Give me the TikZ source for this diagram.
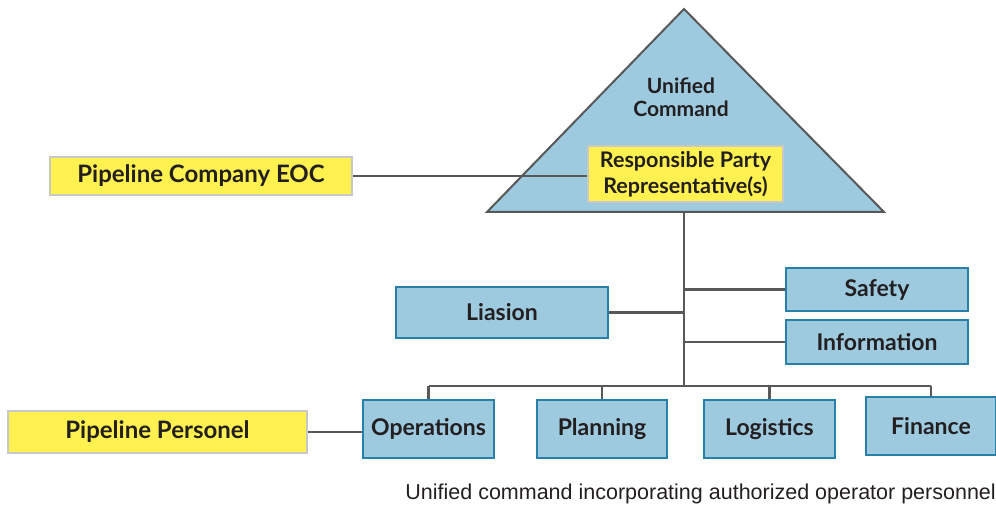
\documentclass[tikz,border=0pt]{standalone}
\usepackage{fontspec}
\setmainfont{Lato}
\newfontfamily\capfont{Liberation Sans}
\definecolor{boxblue}{RGB}{158,202,224}
\definecolor{boxedge}{RGB}{38,128,168}
\definecolor{ylw}{RGB}{255,242,80}
\definecolor{ylwedge}{RGB}{200,200,200}
\definecolor{linegray}{RGB}{88,88,88}
\definecolor{txt}{RGB}{35,31,32}
\begin{document}
\begin{tikzpicture}[x=1pt,y=-1pt,
  bluebox/.style={draw=boxedge, line width=1.5pt, fill=boxblue, inner sep=0pt, text=txt,
    font=\fontsize{23}{26}\selectfont\bfseries},
  ylwbox/.style={draw=ylwedge, line width=1.2pt, fill=ylw, inner sep=0pt, text=txt,
    font=\fontsize{24}{27}\selectfont\bfseries},
  conn/.style={draw=linegray, line width=2.2pt},
  tri/.style={draw=linegray, line width=2pt, fill=boxblue, line join=miter}]
\useasboundingbox (0,0) rectangle (996,510);
% triangle
\coordinate (apex) at (684,9);
\coordinate (bl) at (487,212);
\coordinate (br) at (884,212);
\coordinate (base) at (684,212);
\coordinate (bus) at (684,386);
\draw[tri] (apex) -- (br) -- (bl) -- cycle;
\node[text=txt, font=\fontsize{21}{23}\selectfont\bfseries, align=center] (uc) at (681,97) {Unified\\Command};
% boxes
\node[ylwbox, minimum width=302pt, minimum height=38pt] (eoc) at (201,176) {Pipeline Company EOC};
\node[ylwbox, minimum width=195pt, minimum height=56pt, align=center,
  font=\fontsize{21.5}{26}\selectfont\bfseries] (rpr) at (685.5,174) {Responsible Party\\Representative(s)};
\node[bluebox, minimum width=212pt, minimum height=51pt] (liaison) at (502,312.5) {Liasion};
\node[bluebox, minimum width=182pt, minimum height=43pt] (safety) at (877,289.5) {Safety};
\node[bluebox, minimum width=182pt, minimum height=44pt] (info) at (877,342) {Information};
\node[bluebox, minimum width=131pt, minimum height=58pt] (ops) at (428.5,429) {Operations};
\node[bluebox, minimum width=130pt, minimum height=58pt] (plan) at (602,429) {Planning};
\node[bluebox, minimum width=131pt, minimum height=58pt] (logi) at (769.5,429) {Logistics};
\node[bluebox, minimum width=130pt, minimum height=58pt] (fin) at (931,426) {Finance};
\node[ylwbox, minimum width=299pt, minimum height=42pt] (pers) at (157.5,432) {Pipeline Personel};
\node[anchor=east, inner sep=0pt, text=txt, font=\capfont\fontsize{21.5}{24}\selectfont] (cap) at (996,494) {Unified command incorporating authorized operator personnel};
% connectors
\draw[conn] (eoc.east) -- (eoc.east -| rpr.west);
\draw[conn] (base) -- (bus);
\draw[conn] (liaison.east) -- (liaison.east -| base);
\draw[conn] (safety.west) -- (safety.west -| base);
\draw[conn] (info.west) -- (info.west -| base);
\draw[conn] (ops.north |- bus) -- (fin.north |- bus);
\foreach \b in {ops,plan,logi,fin} \draw[conn] (\b.north |- bus) -- (\b.north);
\draw[conn] (pers.east) -- (pers.east -| ops.west);
\end{tikzpicture}
\end{document}
